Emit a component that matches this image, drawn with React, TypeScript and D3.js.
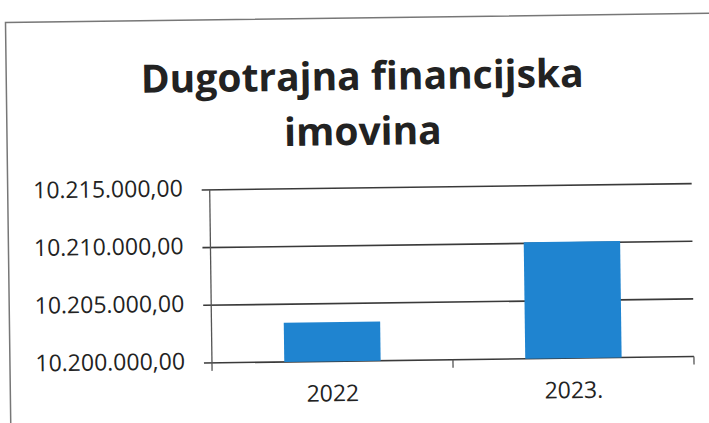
import * as d3 from "d3";

const years = ["2022", "2023."];
const values = [10203400, 10210100];
const yTicks = [10200000, 10205000, 10210000, 10215000];
const title = ["Dugotrajna financijska", "imovina"];

const W = 709;
const H = 423;
const margin = { top: 188, right: 17, bottom: 62, left: 210 };

function fmt(v: number) {
  // 10.215.000,00 style
  const s = d3.format(",.2f")(v);
  return s.replace(/,/g, "#").replace(".", ",").replace(/#/g, ".");
}

export default function App() {
  const innerW = W - margin.left - margin.right;
  const innerH = H - margin.top - margin.bottom;

  const x = d3.scaleBand().domain(years).range([0, innerW]).paddingInner(0.6).paddingOuter(0.3);
  const y = d3.scaleLinear().domain([10200000, 10215000]).range([innerH, 0]);
  const step = x.step();

  return (
    <div style={{ position: "fixed", left: 0, top: 0 }}>
      <svg width={W} height={H} style={{ background: "#fff" }}>
        <g transform={`rotate(-0.75 ${W / 2} ${H / 2})`}>
          {/* frame */}
          <path d={`M8,${H + 5} V18 H${W + 10}`} fill="none" stroke="#777" strokeWidth={1.5} />

          <text textAnchor="middle" fontFamily="Open Sans" fontWeight="bold" fill="#222" fontSize={39}>
            <tspan x={364} y={90}>{title[0]}</tspan>
            <tspan x={364} y={145}>{title[1]}</tspan>
          </text>

          <g transform={`translate(${margin.left},${margin.top})`}>
            {yTicks.map((t) => (
              <g key={t}>
                <line x1={-8} x2={innerW} y1={y(t)} y2={y(t)} stroke="#3a3a3a" strokeWidth={1.6} />
                <text
                  x={-27}
                  y={y(t)}
                  textAnchor="end"
                  dominantBaseline="middle"
                  fontFamily="Open Sans"
                  fontSize={23}
                  fill="#222"
                >
                  {fmt(t)}
                </text>
              </g>
            ))}
            <line x1={0} x2={0} y1={0} y2={innerH + 8} stroke="#555" strokeWidth={1.3} />
            {years.map((d) => (
              <line
                key={d}
                x1={(x(d) ?? 0) - (step * x.paddingInner()) / 2 + step}
                x2={(x(d) ?? 0) - (step * x.paddingInner()) / 2 + step}
                y1={innerH}
                y2={innerH + 8}
                stroke="#555"
                strokeWidth={1.3}
              />
            ))}
            {years.map((d, i) => (
              <rect
                key={d}
                x={x(d)}
                y={y(values[i])}
                width={x.bandwidth()}
                height={innerH - y(values[i])}
                fill="#1f84d0"
              />
            ))}
            {years.map((d) => (
              <text
                key={d}
                x={(x(d) ?? 0) + x.bandwidth() / 2}
                y={innerH + 40}
                textAnchor="middle"
                fontFamily="Open Sans"
                fontSize={23}
                fill="#222"
              >
                {d}
              </text>
            ))}
          </g>
        </g>
      </svg>
    </div>
  );
}
